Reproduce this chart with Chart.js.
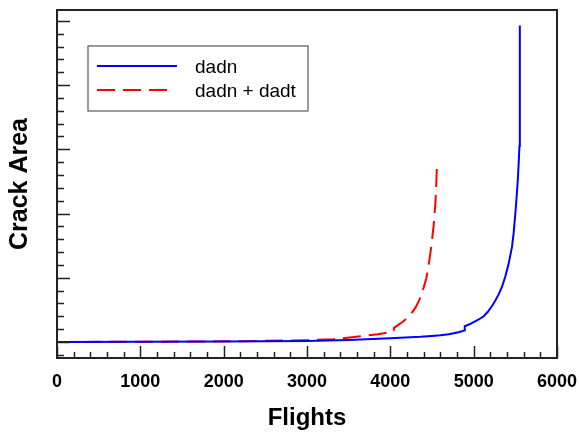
<!DOCTYPE html>
<html>
<head>
<meta charset="utf-8">
<script src="https://cdn.jsdelivr.net/npm/chart.js@4"></script>
<style>
  html, body { margin: 0; padding: 0; background: #fff; }
</style>
</head>
<body>
<canvas id="crack-chart" width="579" height="433"></canvas>
<script>
const seriesLabels = ["dadn", "dadn + dadt"];

// dadn only
const flightsDadn = [0, 1000, 2000, 3000, 3500, 4000, 4360, 4500, 4600, 4700, 4760, 4830, 4890, 4893, 4950, 5000, 5060, 5120, 5170, 5220, 5260, 5300, 5340, 5380, 5420, 5460, 5480, 5500, 5515, 5530, 5541, 5549, 5553, 5555];
const areaDadn = [0, 0.002, 0.006, 0.014, 0.032, 0.058, 0.081, 0.094, 0.105, 0.12, 0.135, 0.155, 0.18, 0.245, 0.275, 0.31, 0.35, 0.40, 0.47, 0.56, 0.645, 0.74, 0.86, 1.02, 1.22, 1.48, 1.70, 2.0, 2.25, 2.53, 2.8, 3.05, 3.4, 4.93];

// dadn + dadt
const flightsDadt = [0, 1000, 2000, 3000, 3320, 3720, 3850, 3960, 4040, 4044, 4100, 4150, 4200, 4250, 4300, 4350, 4400, 4430, 4460, 4480, 4500, 4520, 4540, 4550, 4560];
const areaDadt = [0, 0.003, 0.009, 0.028, 0.042, 0.10, 0.12, 0.143, 0.16, 0.22, 0.27, 0.315, 0.37, 0.44, 0.53, 0.66, 0.85, 0.98, 1.20, 1.38, 1.58, 1.82, 2.15, 2.40, 2.79];

const flightTicks = [0, 1000, 2000, 3000, 4000, 5000, 6000];

const toPoints = (xs, ys) => xs.map((x, i) => ({ x: x, y: ys[i] }));

const FONT = "'Liberation Sans', Arial, sans-serif";

// box around the plot plus inward tick marks (major + minor)
const frameTicks = {
  id: "frameTicks",
  afterDatasetsDraw(chart) {
    const { ctx, chartArea: a, scales } = chart;
    const x = scales.x, y = scales.y;
    ctx.save();
    ctx.strokeStyle = "#222";
    ctx.lineWidth = 1.5;
    ctx.beginPath();
    for (let i = 0; i <= 30; i++) {
      const px = Math.round(x.getPixelForValue(i * 200)) + 0.5;
      const len = i % 5 === 0 ? 12 : 6;
      ctx.moveTo(px, a.bottom);
      ctx.lineTo(px, a.bottom - len);
    }
    for (let i = -1; i <= 25; i++) {
      const py = Math.round(y.getPixelForValue(i * 0.2)) + 0.5;
      const len = i % 5 === 0 ? 13 : 7;
      ctx.moveTo(a.left, py);
      ctx.lineTo(a.left + len, py);
    }
    ctx.stroke();
    ctx.lineWidth = 2;
    ctx.strokeRect(a.left, a.top, a.right - a.left, a.bottom - a.top);
    ctx.restore();
  }
};

// boxed legend in the upper left of the plot
const boxLegend = {
  id: "boxLegend",
  afterDraw(chart) {
    const { ctx, chartArea: a } = chart;
    const bx = a.left + 31, by = a.top + 36, bw = 220, bh = 65;
    ctx.save();
    ctx.fillStyle = "#fff";
    ctx.fillRect(bx, by, bw, bh);
    ctx.strokeStyle = "#666";
    ctx.lineWidth = 1.3;
    ctx.strokeRect(bx, by, bw, bh);
    chart.data.datasets.forEach((ds, i) => {
      const ly = by + 20 + i * 24;
      ctx.beginPath();
      ctx.strokeStyle = ds.borderColor;
      ctx.lineWidth = 2;
      ctx.setLineDash(ds.borderDash || []);
      ctx.moveTo(bx + 9, ly);
      ctx.lineTo(bx + (ds.borderDash ? 81 : 89), ly);
      ctx.stroke();
      ctx.setLineDash([]);
      ctx.fillStyle = "#000";
      ctx.font = "19px " + FONT;
      ctx.textBaseline = "alphabetic";
      ctx.fillText(ds.label, bx + 107, ly + 7);
    });
    ctx.restore();
  }
};

new Chart(document.getElementById("crack-chart"), {
  type: "line",
  data: {
    datasets: [
      {
        label: seriesLabels[0],
        data: toPoints(flightsDadn, areaDadn),
        borderColor: "#0000ff",
        borderWidth: 2,
        pointRadius: 0,
        fill: false,
        tension: 0,
      },
      {
        label: seriesLabels[1],
        data: toPoints(flightsDadt, areaDadt),
        borderColor: "#ff0000",
        borderWidth: 2,
        borderDash: [18, 8],
        pointRadius: 0,
        fill: false,
        tension: 0,
      },
    ],
  },
  options: {
    responsive: false,
    animation: false,
    layout: { padding: { top: 10, right: 22, left: 0, bottom: 0 } },
    plugins: {
      legend: { display: false },
      tooltip: { enabled: false },
    },
    scales: {
      x: {
        type: "linear",
        min: 0,
        max: 6000,
        afterBuildTicks: (s) => { s.ticks = flightTicks.map((v) => ({ value: v })); },
        afterFit: (s) => {
          s.height = 75;
          // let the last label hang into the right margin
          s.paddingRight = 0;
          s.paddingLeft = 0;
        },
        grid: { display: false, drawTicks: false },
        border: { display: false },
        ticks: {
          color: "#000",
          padding: 13,
          maxRotation: 0,
          callback: (v) => String(v),
          font: { family: FONT, size: 18, weight: "bold" },
        },
        title: {
          display: true,
          text: "Flights",
          color: "#000",
          padding: { top: 0, bottom: 0 },
          font: { family: FONT, size: 24, weight: "bold" },
        },
      },
      y: {
        type: "linear",
        min: -0.25,
        max: 5.17,
        afterFit: (s) => { s.width = 57; },
        grid: { display: false, drawTicks: false },
        border: { display: false },
        ticks: { display: false },
        title: {
          display: true,
          text: "Crack Area",
          color: "#000",
          padding: { top: 5, bottom: 0 },
          font: { family: FONT, size: 25, weight: "bold" },
        },
      },
    },
  },
  plugins: [frameTicks, boxLegend],
});
</script>
</body>
</html>
